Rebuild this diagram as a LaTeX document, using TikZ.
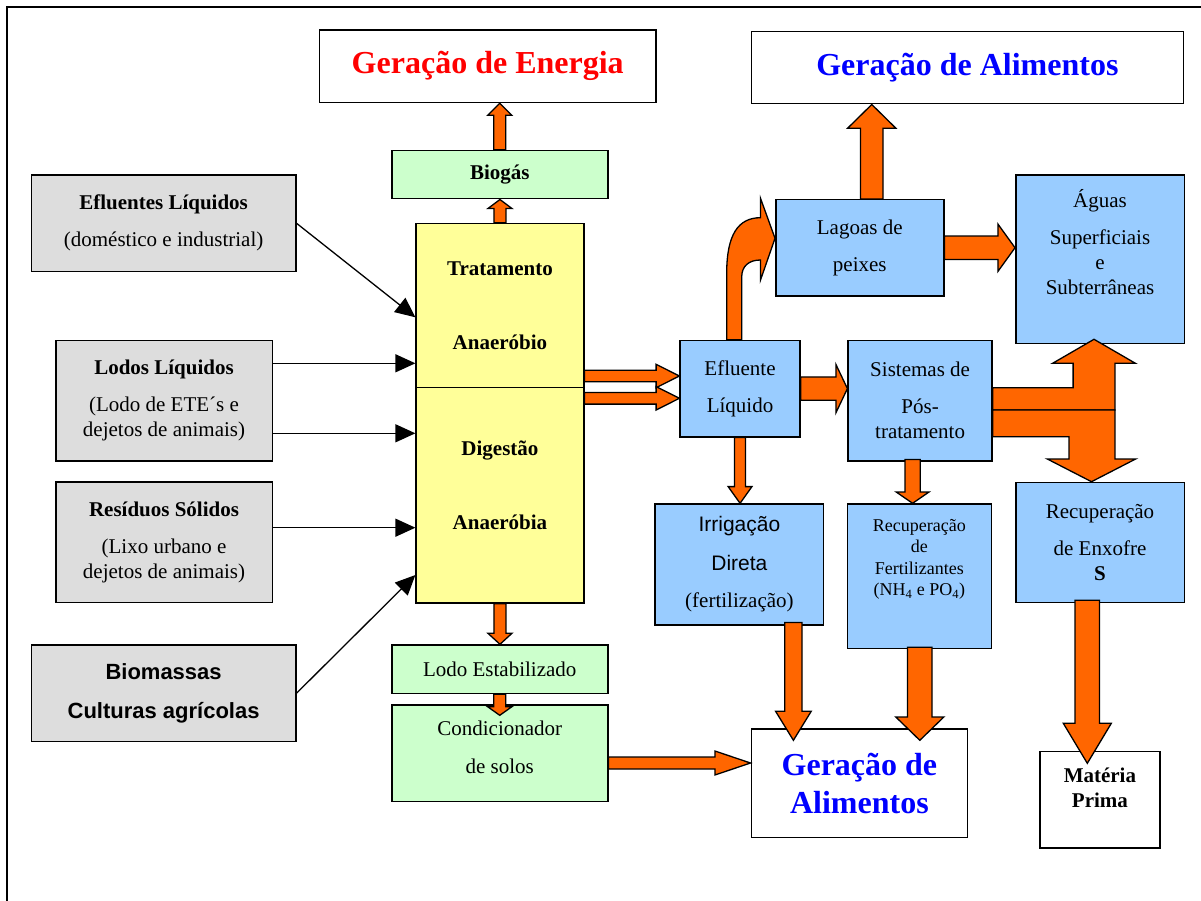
\documentclass[tikz,border=0pt]{standalone}
\usepackage{fontspec}
\setmainfont{Liberation Serif}
\newfontfamily\sansf{Liberation Sans}
\usepackage{tikz}
\usetikzlibrary{calc}
\usetikzlibrary{arrows.meta}
\usepackage{xcolor}

\definecolor{laranja}{HTML}{FF6600}
\definecolor{azulcx}{HTML}{99CCFF}
\definecolor{verdecx}{HTML}{CCFFCC}
\definecolor{amarelocx}{HTML}{FFFF99}
\definecolor{cinzacx}{HTML}{DDDDDD}
\definecolor{azultit}{HTML}{0000FF}

\newcommand{\corpo}{\fontsize{21}{25}\selectfont}
\newcommand{\titulo}{\fontsize{32}{37.7}\selectfont\bfseries}

% fat orange arrow: start, tip, shaft half width, head half width, head length
\newcommand{\fatarrow}[5]{
  \coordinate (fa-s) at #1;
  \coordinate (fa-t) at #2;
  \coordinate (fa-b) at ($(fa-t)!#5!(fa-s)$);
  \filldraw[grossa] ($(fa-s)!#3!90:(fa-t)$) -- ($(fa-b)!#3!90:(fa-t)$) -- ($(fa-b)!#4!90:(fa-t)$) -- (fa-t)
    -- ($(fa-b)!#4!-90:(fa-t)$) -- ($(fa-b)!#3!-90:(fa-t)$) -- ($(fa-s)!#3!-90:(fa-t)$) -- cycle;
}

\tikzset{
  caixa/.style 2 args={draw, line width=1.5pt, anchor=north west, minimum width=#1, minimum height=#2, align=center, inner sep=0pt, font=\corpo},
  grossa/.style={fill=laranja, draw=black, line width=1.3pt, line join=miter},
  seta/.style={-{Triangle[length=20pt,width=18pt]}, line width=1.3pt},
}

\begin{document}
\begin{tikzpicture}[x=1pt,y=-1pt]
\useasboundingbox (0,0) rectangle (1201,901);
\draw[line width=2pt] (6.7,901) -- (6.7,6.7) -- (1201,6.7);

% entradas
\node[caixa={264.3pt}{96.4pt}, fill=cinzacx] (efl) at (30.7,174.3) {\textbf{Efluentes Líquidos}\\[12pt](doméstico e industrial)};
\node[caixa={216.5pt}{120.3pt}, fill=cinzacx] (lodos) at (55,339.7) {\textbf{Lodos Líquidos}\\[12pt](Lodo de ETE´s e\\dejetos de animais)};
\node[caixa={216.5pt}{120.4pt}, fill=cinzacx] (resid) at (55,481.3) {\textbf{Resíduos Sólidos}\\[12pt](Lixo urbano e\\dejetos de animais)};
\node[caixa={264.3pt}{96.4pt}, fill=cinzacx, font=\sansf\fontsize{22}{26.4}\selectfont\bfseries] (biom) at (30.7,644.3) {Biomassas\\[12.6pt]Culturas agrícolas};

% reator
\node[caixa={167.6pt}{164pt}, fill=amarelocx, font=\corpo\bfseries] (trat) at (415.4,222.7) {Tratamento\\[49pt]Anaeróbio};
\node[caixa={167.6pt}{215.6pt}, fill=amarelocx, label={[font=\corpo\bfseries, align=center, yshift=10pt]center:{Digestão\\[49pt]Anaeróbia}}] (dig) at (415.4,386.7) {};
\node[caixa={216pt}{48.3pt}, fill=verdecx, font=\corpo\bfseries] (biogas) at (391,149.7) {Biogás};
\node[caixa={336.7pt}{72.4pt}, font=\titulo, text=red] (energia) at (318.6,29.3) {Geração de Energia};
\node[caixa={216pt}{48.4pt}, fill=verdecx] (lodoest) at (391,644.3) {Lodo Estabilizado};
\node[caixa={216pt}{96.4pt}, fill=verdecx, label={[font=\corpo, align=center, yshift=6pt]center:{Condicionador\\[13pt]de solos}}] (cond) at (391,704.3) {};

% saidas
\node[caixa={119.8pt}{96.3pt}, fill=azulcx] (eflliq) at (679.4,339.7) {Efluente\\[12pt]Líquido};
\node[caixa={168pt}{96pt}, fill=azulcx] (lagoas) at (775,199) {Lagoas de\\[12pt]peixes};
\node[caixa={168.5pt}{168.4pt}, fill=azulcx, label={[font=\corpo, align=center, yshift=17pt]center:{Águas\\[12pt]Superficiais\\e\\Subterrâneas}}] (aguas) at (1015,174.3) {};
\node[caixa={143.9pt}{120.3pt}, fill=azulcx] (sist) at (847.4,339.7) {Sistemas de\\[12pt]Pós-\\tratamento};
\node[caixa={168.5pt}{120.7pt}, fill=azulcx] (irrig) at (654.4,503.3) {{\sansf Irrigação}\\[14pt]{\sansf Direta}\\[12pt](fertilização)};
\node[caixa={143.9pt}{144.4pt}, fill=azulcx, label={[font=\fontsize{18}{21.6}\selectfont, align=center, yshift=17pt]center:{Recuperação\\de\\Fertilizantes\\(NH\textsubscript{4} e PO\textsubscript{4})}}] (fert) at (846.6,503.3) {};
\node[caixa={168.5pt}{120pt}, fill=azulcx] (enxofre) at (1015,481.7) {Recuperação\\[12pt]de Enxofre\\\textbf{S}};
\node[caixa={432.2pt}{72pt}, font=\titulo, text=azultit] (alimtop) at (750.5,31) {Geração de Alimentos};
\node[caixa={216.3pt}{108.4pt}, font=\titulo, text=azultit] (alimbot) at (750.5,728.3) {Geração de\\Alimentos};
\node[caixa={120.3pt}{96.3pt}, label={[font=\corpo\bfseries, align=center, yshift=12pt]center:{Matéria\\Prima}}] (materia) at (1039,750.7) {};

% entradas -> reator
\draw[seta] (efl.east) -- (trat.west |- 0,317.3);
\draw[seta] (lodos.east |- 0,363.3) -- (trat.west |- 0,363.3);
\draw[seta] (lodos.east |- 0,433.3) -- (dig.west |- 0,433.3);
\draw[seta] (resid.east |- 0,527.7) -- (dig.west |- 0,527.7);
\draw[seta] (biom.east) -- (dig.west |- 0,575);

% setas grossas
\fatarrow{(trat.north)}{(trat.north |- biogas.south)}{6pt}{12pt}{9pt}
\fatarrow{(biogas.north)}{(biogas.north |- energia.south)}{6pt}{12pt}{12pt}
\fatarrow{(dig.south)}{(dig.south |- lodoest.north)}{6pt}{12pt}{11pt}
\fatarrow{(lodoest.south)}{($(lodoest.south |- cond.north)+(0,11)$)}{6pt}{12pt}{8.5pt}
\fatarrow{(cond.east |- 0,763)}{(alimbot.west |- 0,763)}{6pt}{12pt}{35.6pt}
\fatarrow{(trat.east |- 0,376)}{(eflliq.west |- 0,376)}{5.8pt}{11.7pt}{23.3pt}
\fatarrow{(dig.east |- 0,398.3)}{(eflliq.west |- 0,398.3)}{5.8pt}{11.7pt}{23.3pt}
\fatarrow{(eflliq.east)}{(sist.west |- eflliq.east)}{11.7pt}{24.2pt}{11.5pt}
\fatarrow{(eflliq.south)}{(eflliq.south |- irrig.north)}{5.5pt}{11.9pt}{16.7pt}
\fatarrow{($(sist.south)+(-7.5,-2)$)}{($(sist.south |- fert.north)+(-7.5,0)$)}{7.6pt}{16.4pt}{11.3pt}
\fatarrow{($(lagoas.north)+(12,0)$)}{($(lagoas.north |- alimtop.south)+(12,0)$)}{11.3pt}{24.1pt}{23.7pt}
\fatarrow{(lagoas.east)}{(aguas.west |- lagoas.east)}{11.7pt}{23.7pt}{17.1pt}
\fatarrow{($(irrig.south)+(54,-3)$)}{($(irrig.south |- alimbot.north)+(54,12)$)}{8.6pt}{17.8pt}{29pt}
\fatarrow{($(fert.south)+(0.5,-2)$)}{($(fert.south |- alimbot.north)+(0.5,12)$)}{12.25pt}{24pt}{23.3pt}
\fatarrow{($(enxofre.south)+(-12.7,-3)$)}{($(enxofre.south |- materia.north)+(-12.7,12.6)$)}{12.25pt}{24pt}{40pt}

% efluente -> lagoas (curva)
\filldraw[grossa] (eflliq.north -| 726.7,0) -- (726.7,273) .. controls (726.7,235) and (738,217.7) .. (760.5,217.7)
  -- (760.5,198.3) -- (lagoas.west |- 0,238.3) -- (760.5,280) -- (760.5,260)
  .. controls (749,260) and (741.7,266) .. (741.7,277) -- (eflliq.north -| 741.7,0) -- cycle;

% pos-tratamento -> aguas / enxofre
\filldraw[grossa] (sist.east |- 0,387.7) -- (1073.1,387.7) -- (1073.1,363.3) -- (1052.6,363.3) -- (1094,339.3)
  -- (1135.4,363.3) -- (1114.9,363.3) -- (1114.9,410) -- (sist.east |- 0,410) -- cycle;
\filldraw[grossa] (sist.east |- 0,410) -- (1114.9,410) -- (1114.9,459) -- (1135.6,459) -- (1091.5,481.7)
  -- (1047.3,459) -- (1069,459) -- (1069,436.7) -- (sist.east |- 0,436.7) -- cycle;
\end{tikzpicture}
\end{document}
